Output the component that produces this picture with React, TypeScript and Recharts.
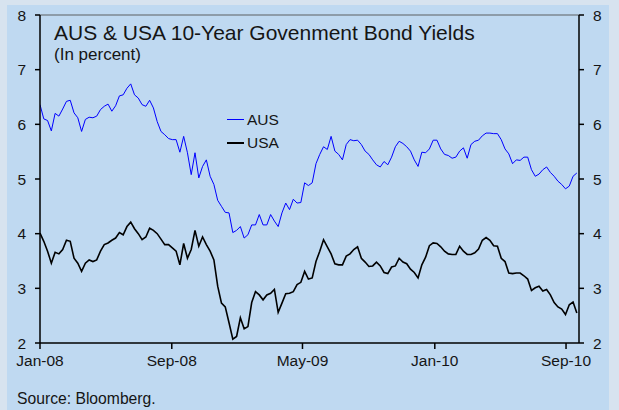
import React from 'react';
import { LineChart, Line, XAxis, YAxis, ReferenceLine, Legend } from 'recharts';

// weekly observations from 1 Jan 2008
const START = Date.UTC(2008, 0, 1);
const DAY = 86400000;
const STEP_DAYS = 7;
const END_DATE = '2010-09-25';

const AUS = [
  6.36, 6.10, 6.07, 5.88, 6.20, 6.15, 6.28, 6.42, 6.44, 6.21,
  6.12, 5.87, 6.09, 6.13, 6.12, 6.15, 6.27, 6.33, 6.37, 6.24,
  6.34, 6.52, 6.54, 6.66, 6.74, 6.54, 6.48, 6.36, 6.33, 6.44,
  6.30, 6.05, 5.87, 5.81, 5.74, 5.72, 5.72, 5.49, 5.78, 5.48,
  5.08, 5.48, 5.02, 5.23, 5.35, 5.05, 4.90, 4.61, 4.50, 4.39,
  4.38, 4.02, 4.06, 4.13, 3.92, 3.98, 4.16, 4.16, 4.35, 4.16,
  4.16, 4.35, 4.23, 4.13, 4.38, 4.56, 4.44, 4.63, 4.56, 4.57,
  4.93, 4.88, 4.93, 5.28, 5.45, 5.59, 5.54, 5.78, 5.51, 5.45,
  5.35, 5.63, 5.72, 5.70, 5.71, 5.63, 5.51, 5.45, 5.35, 5.26,
  5.22, 5.32, 5.26, 5.40, 5.59, 5.69, 5.65, 5.59, 5.51, 5.35,
  5.23, 5.49, 5.48, 5.55, 5.71, 5.71, 5.55, 5.45, 5.43, 5.38,
  5.40, 5.51, 5.57, 5.38, 5.63, 5.69, 5.71, 5.79, 5.84, 5.84,
  5.83, 5.83, 5.72, 5.55, 5.46, 5.28, 5.35, 5.34, 5.40, 5.40,
  5.17, 5.05, 5.09, 5.17, 5.22, 5.12, 5.05, 4.96, 4.90, 4.82,
  4.87, 5.05, 5.11,
];

const USA = [
  4.01, 3.86, 3.68, 3.46, 3.66, 3.63, 3.71, 3.88, 3.86, 3.55,
  3.46, 3.31, 3.46, 3.52, 3.49, 3.52, 3.68, 3.80, 3.83, 3.88,
  3.92, 4.02, 3.98, 4.13, 4.21, 4.09, 4.00, 3.89, 3.94, 4.10,
  4.06, 4.00, 3.90, 3.80, 3.80, 3.74, 3.68, 3.43, 3.82, 3.55,
  3.71, 4.06, 3.77, 3.94, 3.80, 3.68, 3.52, 3.04, 2.73, 2.66,
  2.37, 2.07, 2.12, 2.46, 2.26, 2.30, 2.74, 2.94, 2.88, 2.79,
  2.88, 2.91, 2.98, 2.56, 2.73, 2.90, 2.91, 2.94, 3.07, 3.11,
  3.31, 3.17, 3.19, 3.49, 3.68, 3.89, 3.76, 3.63, 3.45, 3.43,
  3.43, 3.59, 3.63, 3.71, 3.76, 3.55, 3.48, 3.40, 3.41, 3.48,
  3.41, 3.29, 3.27, 3.39, 3.41, 3.55, 3.48, 3.45, 3.35, 3.29,
  3.19, 3.43, 3.57, 3.78, 3.83, 3.82, 3.76, 3.68, 3.63, 3.62,
  3.62, 3.77, 3.68, 3.62, 3.62, 3.65, 3.72, 3.88, 3.93, 3.88,
  3.78, 3.77, 3.55, 3.49, 3.28, 3.27, 3.28, 3.28, 3.23, 3.17,
  2.96, 3.01, 3.04, 2.95, 2.98, 2.88, 2.74, 2.66, 2.62, 2.52,
  2.70, 2.75, 2.55,
];

const TICK_DATES = ['2008-01-01', '2008-09-01', '2009-05-01', '2010-01-01', '2010-09-01'];
const TICK_LABELS = ['Jan-08', 'Sep-08', 'May-09', 'Jan-10', 'Sep-10'];
const Y_TICKS = [2, 3, 4, 5, 6, 7, 8];

const FONT = '"Liberation Sans", Arial, sans-serif';
const TEXT = '#151515';

const dayOf = (s: string) => Math.round((Date.parse(s) - START) / DAY);
const xTicks = TICK_DATES.map(dayOf);
const labelFor = (d: number) => TICK_LABELS[xTicks.indexOf(d)] ?? '';

const data = AUS.map((v, i) => ({ t: i * STEP_DAYS, aus: v, usa: USA[i] }));

const LegendBox = () => (
  <div style={{ fontFamily: FONT, fontSize: 15.5, color: TEXT }}>
    {[
      { name: 'AUS', color: '#0000ff', w: 1 },
      { name: 'USA', color: '#000000', w: 2 },
    ].map((r) => (
      <div key={r.name} style={{ display: 'flex', alignItems: 'center', height: 23 }}>
        <span style={{ display: 'inline-block', width: 17, height: r.w, background: r.color, marginRight: 3 }} />
        <span>{r.name}</span>
      </div>
    ))}
  </div>
);

const tickStyle = { fontFamily: FONT, fontSize: 15.5, fill: TEXT };

export default function App() {
  return (
    <div style={{ position: 'absolute', left: 0, top: 0, width: 619, height: 410, background: '#d7e3ef', overflow: 'hidden' }}>
      <div style={{ position: 'absolute', left: 7, top: 5, width: 602, height: 405, background: '#bfd9f1' }} />
      <div style={{ position: 'absolute', left: 0, top: 0 }}>
        <LineChart width={619} height={410} data={data} margin={{ top: 15, right: 0, bottom: 0, left: 0 }}>
          <XAxis
            type="number"
            dataKey="t"
            domain={[0, dayOf(END_DATE)]}
            ticks={xTicks}
            tickFormatter={labelFor}
            allowDataOverflow
            height={67}
            tickSize={6}
            tickMargin={6}
            tick={tickStyle}
            axisLine={{ stroke: '#000', strokeWidth: 1.5 }}
            tickLine={{ stroke: '#000', strokeWidth: 1.5 }}
            interval={0}
          />
          <YAxis
            yAxisId="left"
            orientation="left"
            domain={[2, 8]}
            ticks={Y_TICKS}
            allowDataOverflow
            width={40}
            tickSize={5}
            tickMargin={9}
            tick={tickStyle}
            axisLine={{ stroke: '#000', strokeWidth: 1.5 }}
            tickLine={{ stroke: '#000', strokeWidth: 1.5 }}
            interval={0}
          />
          <YAxis
            yAxisId="right"
            orientation="right"
            domain={[2, 8]}
            ticks={Y_TICKS}
            allowDataOverflow
            width={40}
            tickSize={5}
            tickMargin={9}
            tick={tickStyle}
            axisLine={{ stroke: '#000', strokeWidth: 1.5 }}
            tickLine={{ stroke: '#000', strokeWidth: 1.5 }}
            interval={0}
          />
          <ReferenceLine yAxisId="left" y={8} stroke="#7d8791" strokeWidth={1.5} />
          <Legend
            content={<LegendBox />}
            layout="horizontal"
            verticalAlign="middle"
            align="center"
            wrapperStyle={{ top: 108, left: 227, width: 70, height: 46 }}
          />
          <Line
            yAxisId="left"
            name="AUS"
            dataKey="aus"
            stroke="#0000ff"
            strokeWidth={1}
            dot={false}
            isAnimationActive={false}
          />
          <Line
            yAxisId="right"
            name="USA"
            dataKey="usa"
            stroke="#000000"
            strokeWidth={1.6}
            dot={false}
            isAnimationActive={false}
          />
        </LineChart>
      </div>
      <div style={{ position: 'absolute', left: 54, top: 22.2, fontFamily: FONT, fontSize: 21, lineHeight: '21px', color: TEXT, whiteSpace: 'nowrap' }}>
        AUS &amp; USA 10-Year Govenment Bond Yields
      </div>
      <div style={{ position: 'absolute', left: 54, top: 45.6, fontFamily: FONT, fontSize: 17, lineHeight: '17px', color: TEXT, whiteSpace: 'nowrap' }}>
        (In percent)
      </div>
      <div style={{ position: 'absolute', left: 17, top: 390.7, fontFamily: FONT, fontSize: 15.7, lineHeight: '15.7px', color: TEXT, whiteSpace: 'nowrap' }}>
        Source: Bloomberg.
      </div>
    </div>
  );
}
